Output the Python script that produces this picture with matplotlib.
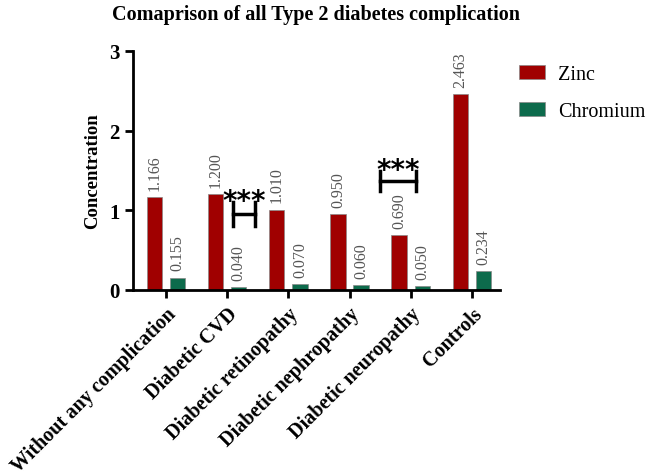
import matplotlib.pyplot as plt
import numpy as np

plt.rcParams["font.family"] = ["Liberation Serif", "DejaVu Serif"]

groups = ["Without any complication", "Diabetic CVD", "Diabetic retinopathy",
          "Diabetic nephropathy", "Diabetic neuropathy", "Controls"]
zinc = [1.166, 1.200, 1.010, 0.950, 0.690, 2.463]
chromium = [0.155, 0.040, 0.070, 0.060, 0.050, 0.234]

# significance brackets: (x_start, x_end, y, half height)
brackets = [(1.09, 1.45, 0.95, 0.15), (3.50, 4.09, 1.37, 0.125)]

fig = plt.figure(figsize=(6.5, 4.77), dpi=100)
ax = fig.add_axes([0.2046, 0.390, 0.5646, 0.501])

x = np.arange(len(groups))
width = 0.25
off = 0.19
red = "#A00000"
green = "#0D6B4C"
ax.bar(x - off, zinc, width, color=red, edgecolor="#888888", linewidth=0.5, label="Zinc")
ax.bar(x + off, chromium, width, color=green, edgecolor="#888888", linewidth=0.5, label="Chromium")

for xi, v in zip(x - off, zinc):
    ax.text(xi, v + 0.09, f"{v:.3f}", rotation=90, ha="center", va="bottom",
            fontsize=11.5, color="#555555", family="Liberation Serif")
for xi, v in zip(x + off, chromium):
    ax.text(xi, v + 0.09, f"{v:.3f}", rotation=90, ha="center", va="bottom",
            fontsize=11.5, color="#555555", family="Liberation Serif")

for x0, x1, y, h in brackets:
    ax.plot([x0, x1], [y, y], color="black", lw=2.5)
    ax.plot([x0, x0], [y - h, y + h], color="black", lw=2.5)
    ax.plot([x1, x1], [y - h, y + h], color="black", lw=2.5)
    ax.text((x0 + x1) / 2, y + h - 0.16, "***", ha="center", va="bottom",
            fontsize=20, fontweight="bold", family="DejaVu Sans")

ax.set_xlim(-0.54, 5.46)
ax.set_ylim(0, 3)
ax.set_yticks([0, 1, 2, 3])
ax.set_xticks(x)
ax.set_xticklabels(groups, rotation=45, ha="right", rotation_mode="anchor",
                   fontsize=14.5, fontweight="bold")
for lab in ax.get_yticklabels():
    lab.set_fontweight("bold")
    lab.set_fontsize(15)
ax.set_ylabel("Concentration", fontsize=13.5, fontweight="bold", labelpad=6)
ax.set_title("Comaprison of all Type 2 diabetes complication", fontsize=14.5,
             fontweight="bold", pad=23)

for s in ["top", "right"]:
    ax.spines[s].set_visible(False)
for s in ["left", "bottom"]:
    ax.spines[s].set_linewidth(2)
ax.tick_params(width=2, length=6)

ax.legend(loc="upper left", bbox_to_anchor=(1.0, 1.02), frameon=False,
          fontsize=14.5, handlelength=1.3, handleheight=0.7, handletextpad=0.65,
          labelspacing=0.85, borderaxespad=0.55)

fig.savefig("out.png", dpi=100)
